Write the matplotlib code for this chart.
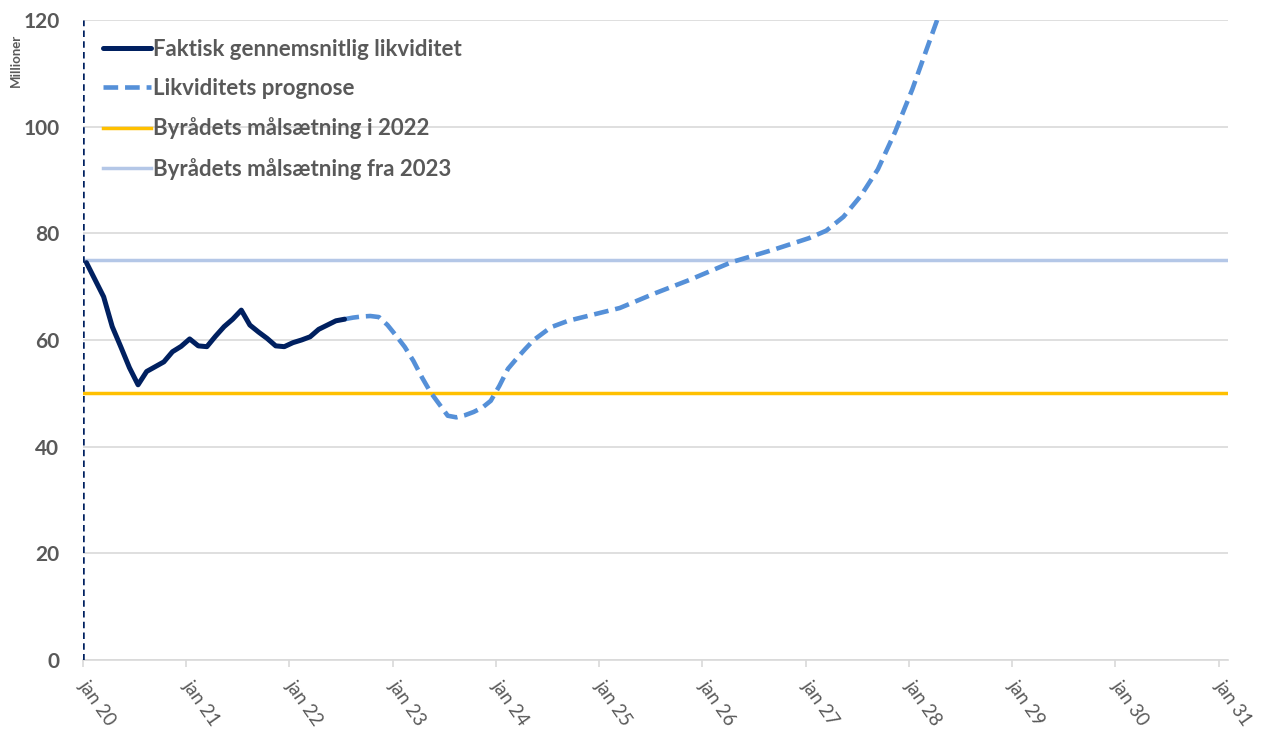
import matplotlib
matplotlib.use("Agg")
import matplotlib.pyplot as plt

plt.rcParams['font.family'] = ['Lato', 'DejaVu Sans']

# maaneder efter jan 2020
actual_months = list(range(31))
actual_values = [74.5, 71.3, 68.1, 62.5, 58.7, 54.8, 51.6, 54.1, 55.0, 55.9,
                 57.8, 58.8, 60.2, 58.9, 58.75, 60.7, 62.5, 63.9, 65.6, 62.8,
                 61.5, 60.3, 58.9, 58.75, 59.5, 60.0, 60.6, 62.0, 62.8, 63.6,
                 63.9]

forecast_months = [30, 31, 32, 33, 34, 35, 36, 37, 38, 39, 40, 41, 42, 43, 44,
                   45, 46, 47, 48, 49, 50, 51, 52, 54, 56, 58, 60, 62, 66, 70,
                   75, 80, 84, 86, 88, 90, 92, 94, 96, 98, 100]
forecast_values = [63.9, 64.2, 64.4, 64.5, 64.3, 62.8, 60.8, 58.7, 56.1, 53.0,
                   50.2, 48.0, 45.8, 45.5, 45.9, 46.5, 47.3, 48.6, 51.4, 54.6,
                   56.5, 58.3, 60.0, 62.4, 63.6, 64.4, 65.2, 66.0, 68.7, 71.2,
                   74.6, 77.0, 79.1, 80.5, 83.1, 87.0, 92.0, 99.0, 107.0, 116.0,
                   125.0]

goal_2022 = 50
goal_2023 = 75

tick_labels = ['jan 20', 'jan 21', 'jan 22', 'jan 23', 'jan 24', 'jan 25',
               'jan 26', 'jan 27', 'jan 28', 'jan 29', 'jan 30', 'jan 31']
y_ticks = [0, 20, 40, 60, 80, 100, 120]

navy = '#002060'
blue = '#5590d8'
yellow = '#ffc000'
lightblue = '#b4c7e7'
grey_txt = '#595959'
grid_col = '#d9d9d9'

mid = 0.4  # punkter ligger midt i maaneden

fig = plt.figure(figsize=(12.67, 7.31), dpi=100)
ax = fig.add_axes([83 / 1267, 71 / 731, 1145 / 1267, 640 / 731])

ax.set_xlim(0, 133.1)
ax.set_ylim(0, 120)

for y in y_ticks:
    ax.axhline(y, color=grid_col, lw=1.2, zorder=0)

ax.axhline(goal_2023, color=lightblue, lw=2.5, zorder=2,
           label='Byrådets målsætning fra 2023')
ax.axhline(goal_2022, color=yellow, lw=2.5, zorder=2,
           label='Byrådets målsætning i 2022')

ax.plot([m + mid for m in forecast_months], forecast_values, color=blue, lw=3.3,
        dashes=(3.2, 1.5), zorder=3, label='Likviditets prognose')
ax.plot([m + mid for m in actual_months], actual_values, color=navy, lw=3.6,
        solid_capstyle='round', solid_joinstyle='round', zorder=4,
        label='Faktisk gennemsnitlig likviditet')

ax.axvline(0, color=navy, lw=1.8, dashes=(2.6, 1.7), zorder=5)

for s in ['top', 'right', 'left']:
    ax.spines[s].set_visible(False)
ax.spines['bottom'].set_color(grid_col)
ax.spines['bottom'].set_linewidth(1.2)

ax.set_xticks(range(0, 133, 12))
ax.set_xticklabels(tick_labels, rotation=-55, ha='left', va='center',
                   rotation_mode='anchor', color=grey_txt, fontsize=13.5)
ax.tick_params(axis='x', length=5, width=1.2, color=grid_col, pad=11)

ax.set_yticks(y_ticks)
ax.set_yticklabels([str(v) for v in y_ticks], color=grey_txt, fontsize=15,
                   fontweight='bold')
ax.tick_params(axis='y', length=0, pad=17)

fig.text(16 / 1267, 1 - 60 / 731, 'Millioner', rotation=90, ha='center',
         va='center', fontsize=9.5, fontweight='bold', color=grey_txt)

handles, labels = ax.get_legend_handles_labels()
order = [3, 2, 1, 0]
leg = ax.legend([handles[i] for i in order], [labels[i] for i in order],
                loc='upper left', bbox_to_anchor=(103 / 1267, 1 - 39 / 731),
                bbox_transform=fig.transFigure, frameon=False, borderpad=0,
                borderaxespad=0, handlelength=2.15, handletextpad=0.12,
                labelspacing=0.82, prop={'size': 16, 'weight': 'bold'})
for t in leg.get_texts():
    t.set_color(grey_txt)

fig.savefig('out.png', dpi=100)
